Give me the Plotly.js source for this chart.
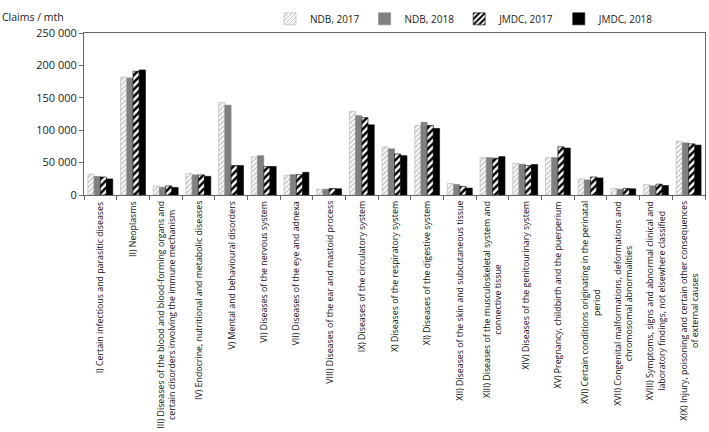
<!DOCTYPE html>
<html>
<head>
<meta charset="utf-8">
<script src="https://cdn.plot.ly/plotly-3.0.1.min.js"></script>
<style>html,body{margin:0;padding:0;background:#fff;}#chart{width:709px;height:432px;}</style>
</head>
<body>
<div id="chart"></div>
<script>
var categories = [
  "I) Certain infectious and parasitic diseases",
  "II) Neoplasms",
  "III) Diseases of the blood and blood-forming organs and<br>certain disorders involving the immune mechanism",
  "IV) Endocrine, nutritional and metabolic diseases",
  "V) Mental and behavioural disorders",
  "VI) Diseases of the nervous system",
  "VII) Diseases of the eye and adnexa",
  "VIII) Diseases of the ear and mastoid process",
  "IX) Diseases of the circulatory system",
  "X) Diseases of the respiratory system",
  "XI) Diseases of the digestive system",
  "XII) Diseases of the skin and subcutaneous tissue",
  "XIII) Diseases of the musculoskeletal system and<br>connective tissue",
  "XIV) Diseases of the genitourinary system",
  "XV) Pregnancy, childbirth and the puerperium",
  "XVI) Certain conditions originating in the perinatal<br>period",
  "XVII) Congenital malformations, deformations and<br>chromosomal abnormalities",
  "XVIII) Symptoms, signs and abnormal clinical and<br>laboratory findings, not elsewhere classified",
  "X(X) Injury, poisoning and certain other consequences<br>of external causes"
];
var ndb2017  = [31900, 182000, 13700, 33400, 142700, 59000, 30400, 9000, 129000, 74400, 107300, 17700, 57700, 48600, 57700, 24800, 10000, 16200, 83000];
var ndb2018  = [28800, 180600, 12000, 31000, 138600, 60700, 31400, 9000, 122500, 71300, 112300, 16200, 57700, 47600, 57700, 23300, 9000, 14200, 80500];
var jmdc2017 = [27800, 191000, 14000, 31000, 45500, 44000, 31400, 10000, 119400, 63300, 107300, 13200, 56700, 45500, 74400, 27800, 10000, 16700, 79000];
var jmdc2018 = [24800, 193000, 11600, 28800, 45500, 44000, 35000, 9600, 108300, 60700, 102700, 10600, 59200, 47000, 72400, 26300, 9600, 14700, 77000];
var seriesNames = ["NDB, 2017", "NDB, 2018", "JMDC, 2017", "JMDC, 2018"];
var yTicks = [0, 50000, 100000, 150000, 200000, 250000];
var yTitle = "Claims / mth";

var FONT = "Open Sans, sans-serif";
var traces = [
  {type: "bar", name: seriesNames[0], x: categories, y: ndb2017,
   marker: {color: "#ffffff", line: {color: "#b0b0b0", width: 0.6},
            pattern: {shape: "/", fgcolor: "#b8b8b8", bgcolor: "#ffffff", size: 3.5, solidity: 0.35}}},
  {type: "bar", name: seriesNames[1], x: categories, y: ndb2018,
   marker: {color: "#808080", line: {color: "#808080", width: 0.6}}},
  {type: "bar", name: seriesNames[2], x: categories, y: jmdc2017,
   marker: {color: "#ffffff", line: {color: "#000000", width: 0.6},
            pattern: {shape: "/", fgcolor: "#000000", bgcolor: "#ffffff", size: 5, solidity: 0.5}}},
  {type: "bar", name: seriesNames[3], x: categories, y: jmdc2018,
   marker: {color: "#000000", line: {color: "#000000", width: 0.6}}}
];

var annotations = categories.map(function (c) {
  return {x: c, y: 0, xref: "x", yref: "y", text: c, showarrow: false,
          textangle: -90, xanchor: "center", yanchor: "top", yshift: -4, align: "center",
          font: {family: FONT, size: 8.8, color: "#111"}};
});
annotations.push({x: -84 / 621, y: 1 + 16 / 164, xref: "paper", yref: "paper",
  xanchor: "left", yanchor: "middle", text: yTitle, showarrow: false,
  font: {family: FONT, size: 10.5, color: "#222"}});

var layout = {
  width: 709, height: 432,
  margin: {l: 84, r: 4, t: 31, b: 237},
  paper_bgcolor: "#fff", plot_bgcolor: "#fff",
  separators: ". ",
  barmode: "group", bargap: 0.24, bargroupgap: 0,
  showlegend: true,
  legend: {orientation: "h", x: (270 - 84) / 621, xanchor: "left", y: 1 + 29 / 164, yanchor: "top",
           font: {family: FONT, size: 10, color: "#222"}, itemwidth: 30,
           traceorder: "normal", bgcolor: "rgba(0,0,0,0)"},
  font: {family: FONT, color: "#222"},
  xaxis: {type: "category", showticklabels: false, ticks: "outside", tickson: "boundaries",
          ticklen: 4, tickcolor: "#666", showline: true, linecolor: "#666", linewidth: 1,
          mirror: true, showgrid: false, zeroline: false, fixedrange: true},
  yaxis: {range: [0, 250000], tickvals: yTicks, tickformat: ",d", ticks: "outside", ticklen: 4,
          tickcolor: "#666", showline: true, linecolor: "#666", linewidth: 1, mirror: true,
          showgrid: false, zeroline: false, tickfont: {family: FONT, size: 11, color: "#222"}},
  annotations: annotations
};
Plotly.newPlot("chart", traces, layout, {displayModeBar: false, staticPlot: true});
</script>
</body>
</html>
